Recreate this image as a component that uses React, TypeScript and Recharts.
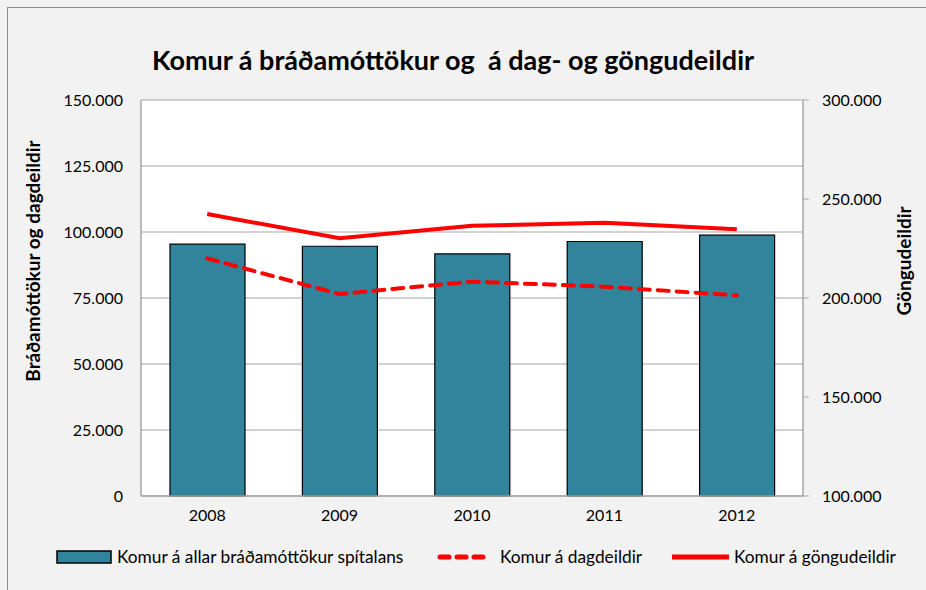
import { Bar, CartesianGrid, ComposedChart, Line, XAxis, YAxis } from "recharts";

const years = ["2008", "2009", "2010", "2011", "2012"];
const bradamottokur = [95400, 94600, 91700, 96400, 98800];
const dagdeildir = [90000, 76500, 81200, 79300, 76000];
const gongudeildir = [242400, 230200, 236500, 238000, 234700];

const leftTicks = [0, 25000, 50000, 75000, 100000, 125000, 150000];
const rightTicks = [100000, 150000, 200000, 250000, 300000];

const TITLE = "Komur á bráðamóttökur og  á dag- og göngudeildir";
const LEFT_TITLE = "Bráðamóttökur og dagdeildir";
const RIGHT_TITLE = "Göngudeildir";
const LEGEND_BAR = "Komur á allar bráðamóttökur spítalans";
const LEGEND_DASH = "Komur á dagdeildir";
const LEGEND_LINE = "Komur á göngudeildir";

const FONT = "Lato, 'Open Sans', sans-serif";
const GRID = "#a6a6a6";
const BAR_FILL = "#31849b";
const RED = "#ff0000";

const data = years.map((year, i) => ({
  year,
  bradamottokur: bradamottokur[i],
  dagdeildir: dagdeildir[i],
  gongudeildir: gongudeildir[i],
}));

function formatThousands(value: number) {
  return value.toLocaleString("de-DE");
}

const tickStyle = { fill: "#000", fontSize: 16, fontFamily: FONT };

export default function App() {
  return (
    <div
      style={{
        position: "absolute",
        left: 0,
        top: 0,
        width: 926,
        height: 590,
        overflow: "hidden",
        background: "#f2f2f2",
        fontFamily: FONT,
      }}
    >
      <div
        style={{
          position: "absolute",
          left: 7,
          top: 7,
          width: 940,
          height: 610,
          border: "1px solid #8c8c8c",
        }}
      />
      <ComposedChart
        width={926}
        height={590}
        data={data}
        margin={{ top: 100, right: 0, bottom: 0, left: 0 }}
        style={{ position: "absolute", left: 0, top: 0 }}
      >
        <CartesianGrid
          yAxisId="left"
          vertical={false}
          stroke={GRID}
          fill="#ffffff"
          horizontalValues={leftTicks}
        />
        <XAxis
          dataKey="year"
          height={94}
          axisLine={{ stroke: GRID, strokeWidth: 1.5 }}
          tickLine={false}
          tick={tickStyle}
          tickMargin={8}
        />
        <YAxis
          yAxisId="left"
          width={141}
          domain={[0, 150000]}
          ticks={leftTicks}
          tickFormatter={formatThousands}
          axisLine={{ stroke: GRID, strokeWidth: 1.5 }}
          tickLine={false}
          tick={tickStyle}
          tickMargin={12}
        />
        <YAxis
          yAxisId="right"
          orientation="right"
          width={123}
          domain={[100000, 300000]}
          ticks={rightTicks}
          tickFormatter={formatThousands}
          axisLine={{ stroke: GRID, strokeWidth: 1.5 }}
          tickLine={{ stroke: GRID }}
          tick={tickStyle}
          tickMargin={13}
        />
        <Bar
          yAxisId="left"
          dataKey="bradamottokur"
          name={LEGEND_BAR}
          fill={BAR_FILL}
          stroke="#000"
          strokeWidth={1.2}
          barSize={75}
          isAnimationActive={false}
        />
        <Line
          yAxisId="left"
          type="linear"
          dataKey="dagdeildir"
          name={LEGEND_DASH}
          stroke={RED}
          strokeWidth={4}
          strokeDasharray="11 8"
          strokeLinecap="round"
          dot={false}
          isAnimationActive={false}
        />
        <Line
          yAxisId="right"
          type="linear"
          dataKey="gongudeildir"
          name={LEGEND_LINE}
          stroke={RED}
          strokeWidth={4}
          dot={false}
          isAnimationActive={false}
        />
      </ComposedChart>
      <svg
        width={926}
        height={590}
        style={{ position: "absolute", left: 0, top: 0, pointerEvents: "none" }}
      >
        <text
          x={453}
          y={70}
          textAnchor="middle"
          fontSize={27}
          fontWeight="bold"
          fontFamily={FONT}
          fill="#000"
          style={{ whiteSpace: "pre" }}
        >
          {TITLE}
        </text>
        <text
          transform="translate(40, 261) rotate(-90)"
          textAnchor="middle"
          fontSize={19}
          fontWeight="bold"
          fontFamily={FONT}
          fill="#000"
        >
          {LEFT_TITLE}
        </text>
        <text
          transform="translate(911, 261) rotate(-90)"
          textAnchor="middle"
          fontSize={19}
          fontWeight="bold"
          fontFamily={FONT}
          fill="#000"
        >
          {RIGHT_TITLE}
        </text>
        {/* legend */}
        <rect x={57} y={551} width={54} height={12} fill={BAR_FILL} stroke="#000" strokeWidth={1.5} />
        <text x={117} y={563} fontSize={17.3} fontFamily={FONT} fill="#000">
          {LEGEND_BAR}
        </text>
        <line
          x1={440}
          y1={557}
          x2={488}
          y2={557}
          stroke={RED}
          strokeWidth={5}
          strokeDasharray="9 8"
          strokeLinecap="round"
        />
        <text x={500} y={563} fontSize={17.3} fontFamily={FONT} fill="#000">
          {LEGEND_DASH}
        </text>
        <line x1={672} y1={557} x2={729} y2={557} stroke={RED} strokeWidth={5} />
        <text x={734} y={563} fontSize={17.3} fontFamily={FONT} fill="#000">
          {LEGEND_LINE}
        </text>
      </svg>
    </div>
  );
}
